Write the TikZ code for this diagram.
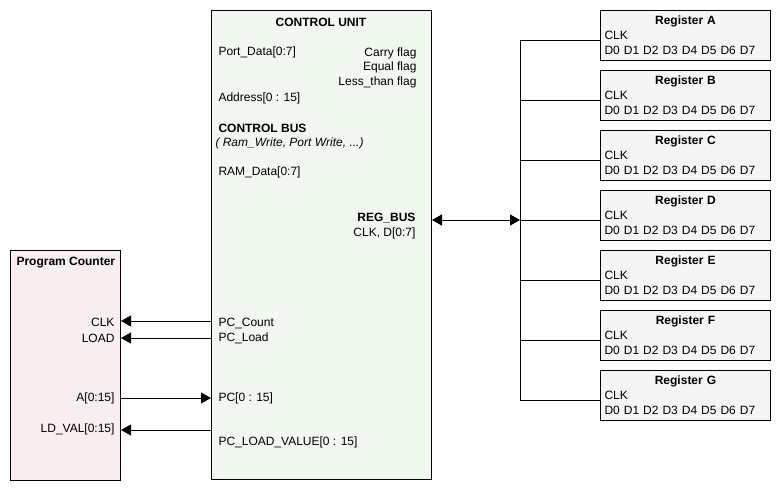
\documentclass[tikz,border=0pt]{standalone}
\usepackage{fontspec}
\setmainfont{Liberation Sans}
\usepackage{xcolor}
\definecolor{cufill}{HTML}{F1F8EF}
\definecolor{pcfill}{HTML}{F8EEEF}
\definecolor{regfill}{HTML}{F5F5F5}
\usepackage{tikz}
\usetikzlibrary{arrows.meta, positioning}

\begin{document}
\begin{tikzpicture}[x=1pt, y=-1pt, line width=1pt,
    font=\fontsize{12}{14.6}\selectfont,
    >={Triangle[length=10pt, width=11pt]},
    lbl/.style={inner sep=2pt},
    regbox/.style={draw, fill=regfill, minimum width=170pt, minimum height=50pt,
                   text width=162pt, align=left, inner xsep=4pt, inner ysep=1pt,
                   font=\fontsize{12}{14.8}\selectfont}]
  \useasboundingbox (0,0) rectangle (780,490);

  % main blocks
  \node[draw, fill=cufill, minimum width=220pt, minimum height=469pt,
        anchor=north west] (cu) at (211,10) {};
  \node[draw, fill=pcfill, minimum width=110pt, minimum height=230pt,
        anchor=north west] (pc) at (10,250) {};

  % control unit labels
  \node[lbl, font=\fontsize{12}{14.6}\selectfont\bfseries] (cutitle) at (321,22) {CONTROL UNIT};
  \node[lbl, anchor=west] (portdata) at (216,52) {Port\_Data[0:7]};
  \node[lbl, anchor=north east, align=right] (flags) at (419,45)
        {Carry flag\\Equal flag\\Less\_than flag};
  \node[lbl, anchor=west] (address) at (216,98) {Address[0 : 15]};
  \node[lbl, anchor=west, font=\fontsize{12}{14.6}\selectfont\bfseries] (ctrlbus) at (216,128) {CONTROL BUS};
  \node[lbl, anchor=west, font=\fontsize{12}{14.6}\selectfont\itshape] (ctrlsig) at (213,143) {( Ram\_Write, Port Write, ...)};
  \node[lbl, anchor=west] (ramdata) at (216,172) {RAM\_Data[0:7]};
  \node[lbl, anchor=east, align=right] (regbus) at (418,226)
        {\textbf{REG\_BUS}\\CLK, D[0:7]};
  \node[lbl, anchor=west] (pccount) at (216,323) {PC\_Count};
  \node[lbl, anchor=west] (pcload) at (216,338) {PC\_Load};
  \node[lbl, anchor=west] (pcval) at (216,398) {PC[0 : 15]};
  \node[lbl, anchor=west] (pcldval) at (216,442) {PC\_LOAD\_VALUE[0 : 15]};

  % program counter labels
  \node[lbl, anchor=west, font=\fontsize{12}{14.6}\selectfont\bfseries] (pctitle) at (14,263) {Program Counter};
  \node[lbl, anchor=east] (clk) at (117,322) {CLK};
  \node[lbl, anchor=east] (load) at (117,338) {LOAD};
  \node[lbl, anchor=east] (aval) at (117,398) {A[0:15]};
  \node[lbl, anchor=east] (ldval) at (117,429) {LD\_VAL[0:15]};

  % registers
  \node[regbox, anchor=north west] (rega) at (600,10)
        {\makebox[162pt]{\textbf{Register A}}\\CLK\\D0 D1 D2 D3 D4 D5 D6 D7};
  \node[regbox, below=9pt of rega] (regb)
        {\makebox[162pt]{\textbf{Register B}}\\CLK\\D0 D1 D2 D3 D4 D5 D6 D7};
  \node[regbox, below=9pt of regb] (regc)
        {\makebox[162pt]{\textbf{Register C}}\\CLK\\D0 D1 D2 D3 D4 D5 D6 D7};
  \node[regbox, below=9pt of regc] (regd)
        {\makebox[162pt]{\textbf{Register D}}\\CLK\\D0 D1 D2 D3 D4 D5 D6 D7};
  \node[regbox, below=9pt of regd] (rege)
        {\makebox[162pt]{\textbf{Register E}}\\CLK\\D0 D1 D2 D3 D4 D5 D6 D7};
  \node[regbox, below=9pt of rege] (regf)
        {\makebox[162pt]{\textbf{Register F}}\\CLK\\D0 D1 D2 D3 D4 D5 D6 D7};
  \node[regbox, below=9pt of regf] (regg)
        {\makebox[162pt]{\textbf{Register G}}\\CLK\\D0 D1 D2 D3 D4 D5 D6 D7};

  % register bus
  \coordinate (bustop) at (520,40);
  \coordinate (busbot) at (520,400);
  \coordinate (busmid) at (520,220);
  \draw (bustop) -- (busbot);
  \draw (bustop) -- (rega.west |- bustop);
  \draw (520,100) -- (regb.west |- 520,100);
  \draw (520,160) -- (regc.west |- 520,160);
  \draw (busmid) -- (regd.west |- busmid);
  \draw (520,280) -- (rege.west |- 520,280);
  \draw (520,340) -- (regf.west |- 520,340);
  \draw (busbot) -- (regg.west |- busbot);
  \draw[<->] (cu.east |- busmid) -- (busmid);

  % program counter connections
  \draw[->] (cu.west |- 0,321) -- (pc.east |- 0,321);
  \draw[->] (cu.west |- 0,338) -- (pc.east |- 0,338);
  \draw[->] (pc.east |- 0,398) -- (cu.west |- 0,398);
  \draw[->] (cu.west |- 0,430) -- (pc.east |- 0,430);
\end{tikzpicture}
\end{document}
